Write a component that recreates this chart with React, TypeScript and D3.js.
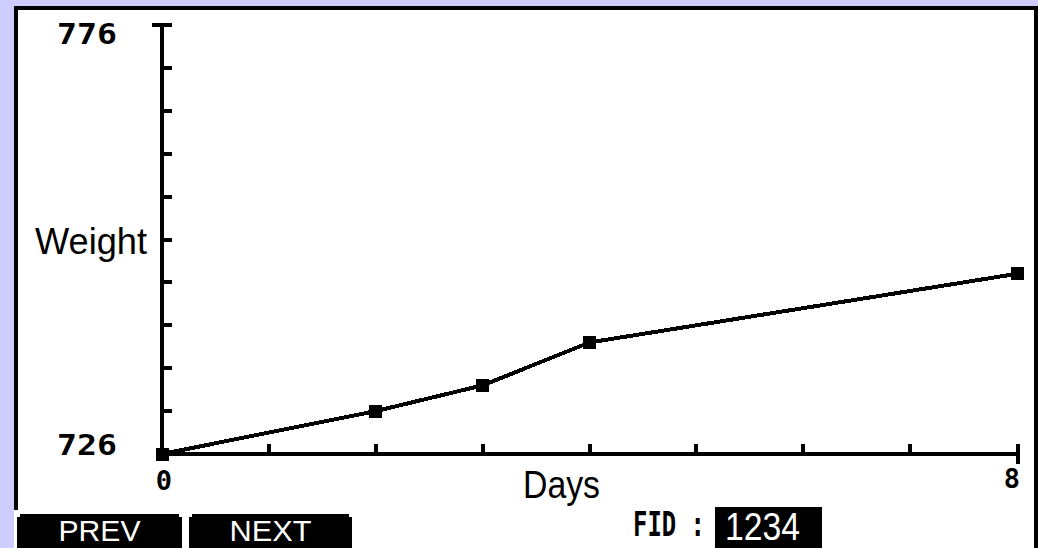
import React from 'react';
import * as d3 from 'd3';

// values
const days = [0, 2, 3, 4, 8];
const weights = [726, 731, 734, 739, 747];
const xTicks = [0, 1, 2, 3, 4, 5, 6, 7, 8];
const yTicks = [726, 731, 736, 741, 746, 751, 756, 761, 766, 771, 776];
const xTickLabels = ['0', '8'];
const yTickLabels = ['776', '726'];
const menuKeys = ['PREV', 'NEXT'];
const fidLabel = 'FID :';
const fidValue = '1234';

const W = 1038;
const H = 548;

const App = () => {
    const x = d3.scaleLinear().domain([0, 8]).range([162, 1017]);
    const y = d3.scaleLinear().domain([726, 776]).range([454, 25]);

    const points = days.map((d, i) => [d, weights[i]] as [number, number]);
    const line = d3.line<[number, number]>()
        .x(d => x(d[0]))
        .y(d => y(d[1]));

    const mono = '"DejaVu Sans Mono", monospace';
    const sans = '"Liberation Sans", Arial, sans-serif';

    // soft key shape with clipped top corners
    const keyPath = (x0: number, x1: number) =>
        `M${x0},548 V517 H${x0 + 3} V514 H${x1 - 3} V517 H${x1} V548 Z`;
    const keyBounds = [[17, 182], [189, 352]];

    return (
        <svg width={W} height={H} style={{ position: 'fixed', left: 0, top: 0, display: 'block' }}>
            <rect width={W} height={H} fill="#ccccff" />
            <rect x={14} y={6} width={W - 14} height={H - 6} fill="#fff" />
            {/* screen frame */}
            <rect x={14} y={6} width={W - 14} height={4} fill="#000" />
            <rect x={14} y={6} width={4} height={504} fill="#000" />
            <rect x={1034} y={6} width={4} height={H - 6} fill="#000" />

            <g shapeRendering="crispEdges">
                {/* y axis */}
                <rect x={x(0) - 2} y={y(776) - 2} width={4} height={y(726) - y(776) + 4} fill="#000" />
                <rect x={x(0) - 10} y={y(776) - 2} width={20} height={4} fill="#000" />
                {yTicks.slice(1, -1).map(t => (
                    <rect key={t} x={x(0) + 2} y={y(t) - 2} width={8} height={4} fill="#000" />
                ))}
                {/* x axis */}
                <rect x={x(0) - 2} y={y(726) - 2} width={x(8) - x(0) + 4} height={4} fill="#000" />
                <rect x={x(8) - 1} y={y(726) - 10} width={4} height={20} fill="#000" />
                {xTicks.slice(1, -1).map(t => (
                    <rect key={t} x={x(t) - 2} y={y(726) - 10} width={4} height={8} fill="#000" />
                ))}

                <path d={line(points) || ''} fill="none" stroke="#000" strokeWidth={4} />
                {points.map(p => (
                    <rect key={p[0]} x={x(p[0]) - 6.5} y={y(p[1]) - 6.5} width={13} height={13} fill="#000" />
                ))}
            </g>

            {/* tick labels */}
            <text x={117} y={44} textAnchor="end" fontFamily={mono} fontWeight="bold" fontSize={29}
                textLength={60} lengthAdjust="spacingAndGlyphs">{yTickLabels[0]}</text>
            <text x={117} y={455} textAnchor="end" fontFamily={mono} fontWeight="bold" fontSize={29}
                textLength={60} lengthAdjust="spacingAndGlyphs">{yTickLabels[1]}</text>
            <text x={x(0) + 2} y={490} textAnchor="middle" fontFamily={mono} fontWeight="bold" fontSize={27}>{xTickLabels[0]}</text>
            <text x={x(8) + 3} y={488} textAnchor="end" fontFamily={mono} fontWeight="bold" fontSize={27}>{xTickLabels[1]}</text>

            {/* axis titles */}
            <text x={35} y={254} fontFamily={sans} fontSize={37} textLength={112} lengthAdjust="spacingAndGlyphs">Weight</text>
            <text x={523} y={498} fontFamily={sans} fontSize={38} textLength={77} lengthAdjust="spacingAndGlyphs">Days</text>

            {/* soft menu keys */}
            {menuKeys.map((k, i) => {
                const [x0, x1] = keyBounds[i];
                return (
                    <g key={k}>
                        <path d={keyPath(x0, x1)} fill="#000" shapeRendering="crispEdges" />
                        <text x={(x0 + x1) / 2} y={541} textAnchor="middle" fill="#fff" fontFamily={sans}
                            fontSize={30} textLength={82} lengthAdjust="spacingAndGlyphs">{k}</text>
                    </g>
                );
            })}

            {/* FID field */}
            <text x={633} y={536} fontFamily={mono} fontWeight="bold" fontSize={33}
                textLength={72} lengthAdjust="spacingAndGlyphs">{fidLabel}</text>
            <rect x={715} y={507} width={107} height={41} fill="#000" />
            <text x={725} y={540} fill="#fff" fontFamily={sans} fontSize={39}
                textLength={75} lengthAdjust="spacingAndGlyphs">{fidValue}</text>
        </svg>
    );
};

export default App;
